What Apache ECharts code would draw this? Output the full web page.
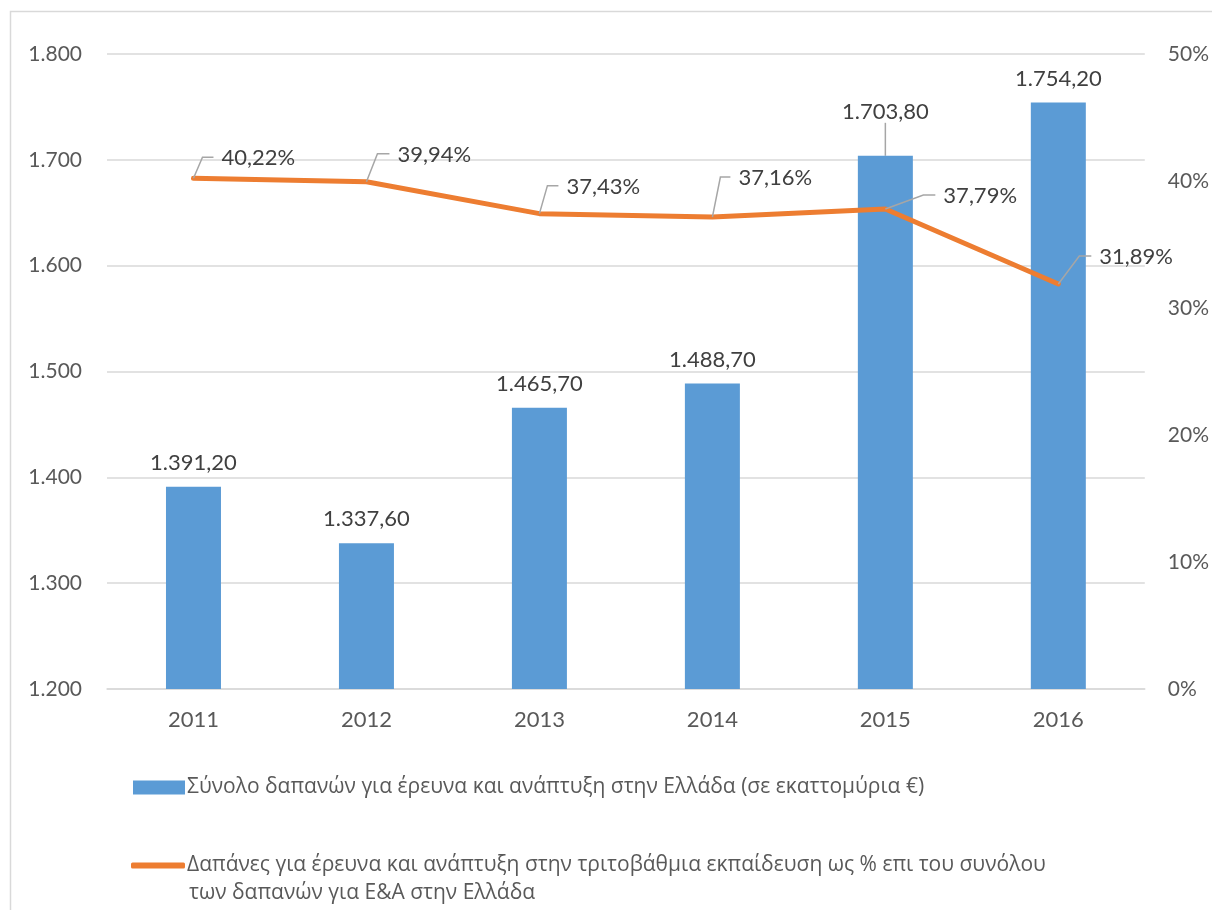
<!DOCTYPE html>
<html>
<head>
<meta charset="utf-8">
<style>
  html, body { margin: 0; padding: 0; background: #ffffff; }
  #chart { width: 1212px; height: 910px; }
</style>
<script src="https://cdn.jsdelivr.net/npm/echarts@6/dist/echarts.min.js"></script>
</head>
<body>
<div id="chart"></div>
<script>
// Years on the category axis
const years = ['2011', '2012', '2013', '2014', '2015', '2016'];
// Total R&D expenditure in Greece, million €
const totalSpending = [1391.2, 1337.6, 1465.7, 1488.7, 1703.8, 1754.2];
// Higher-education share of R&D expenditure, %
const higherEduShare = [40.22, 39.94, 37.43, 37.16, 37.79, 31.89];

const barName = 'Σύνολο δαπανών για έρευνα και ανάπτυξη στην Ελλάδα (σε εκαττομύρια €)';
const lineName = 'Δαπάνες για έρευνα και ανάπτυξη στην τριτοβάθμια εκπαίδευση ως % επι του συνόλου των δαπανών για Ε&Α στην Ελλάδα';
const lineNameFirstRow = 'Δαπάνες για έρευνα και ανάπτυξη στην τριτοβάθμια εκπαίδευση ως % επι του συνόλου';
const lineNameSecondRow = 'των δαπανών για Ε&Α στην Ελλάδα';

// Callout placement for the percentage labels: [elbow dx, elbow dy, text dx]
const calloutOffsets = [
  [9, -21, 28],
  [11, -28, 31],
  [8, -28, 27],
  [8, -40, 26],
  [38, -14, 58],
  [21, -28, 41]
];

const NUM_FONT = 'Lato, "Open Sans", sans-serif';
const TXT_FONT = '"Open Sans", "Noto Sans", sans-serif';
const TEXT = '#595959';
const LABEL = '#404040';
const LEADER = '#a6a6a6';

function greekNumber(v) {
  const parts = v.toFixed(2).split('.');
  const intPart = parts[0].replace(/\B(?=(\d{3})+(?!\d))/g, '.');
  return intPart + ',' + parts[1];
}

const chart = echarts.init(document.getElementById('chart'), null, { renderer: 'canvas' });

chart.setOption({
  backgroundColor: '#ffffff',
  animation: false,
  textStyle: { fontFamily: NUM_FONT },
  graphic: [{
    type: 'rect',
    shape: { x: 10.5, y: 11.5, width: 1300, height: 1000 },
    style: { fill: 'none', stroke: '#d9d9d9', lineWidth: 1.5 },
    silent: true,
    z: -10
  }, {
    type: 'text',
    left: 189, top: 883,
    style: { text: lineNameSecondRow, fill: TEXT, fontSize: 21, fontFamily: TXT_FONT }
  }],
  grid: { left: 107, right: 67, top: 54, bottom: 221 },
  legend: [{
    data: [barName],
    left: 128, top: 772,
    itemWidth: 52, itemHeight: 14, itemGap: 5,
    icon: 'rect',
    textStyle: { color: TEXT, fontSize: 21, fontFamily: TXT_FONT, padding: [0, 0, 0, -3] }
  }, {
    data: [{ name: lineName, icon: 'roundRect', itemStyle: { color: '#ed7d31' } }],
    left: 126, top: 850,
    itemWidth: 54, itemHeight: 6,
    formatter: function () { return lineNameFirstRow; },
    textStyle: { color: TEXT, fontSize: 21, fontFamily: TXT_FONT, padding: [0, 0, 0, -3] }
  }],
  xAxis: {
    type: 'category',
    data: years,
    axisLine: { lineStyle: { color: '#d9d9d9', width: 1.5 } },
    axisTick: { show: false },
    axisLabel: { color: TEXT, fontSize: 22, fontFamily: NUM_FONT, margin: 20 }
  },
  yAxis: [{
    type: 'value',
    min: 1200, max: 1800, interval: 100,
    axisLine: { show: false },
    axisTick: { show: false },
    splitLine: { lineStyle: { color: '#d9d9d9', width: 1.5 } },
    axisLabel: {
      color: TEXT, fontSize: 21, fontFamily: NUM_FONT, margin: 25,
      formatter: function (v) { return String(v).replace(/\B(?=(\d{3})+(?!\d))/g, '.'); }
    }
  }, {
    type: 'value',
    min: 0, max: 50, interval: 10,
    axisLine: { show: false },
    axisTick: { show: false },
    splitLine: { show: false },
    axisLabel: {
      color: TEXT, fontSize: 21, fontFamily: NUM_FONT, margin: 23,
      formatter: '{value}%'
    }
  }],
  series: [{
    name: barName,
    type: 'bar',
    yAxisIndex: 0,
    barWidth: 55,
    itemStyle: { color: '#5b9bd5' },
    data: totalSpending.map(function (v, i) {
      return i === 4 ? { value: v, labelLine: { show: true } } : v;
    }),
    label: {
      show: true,
      position: 'top',
      distance: 13,
      color: LABEL,
      fontSize: 22,
      fontFamily: NUM_FONT,
      formatter: function (p) { return greekNumber(p.value); }
    },
    labelLine: { show: false, lineStyle: { color: LEADER, width: 1.5 } },
    labelLayout: function (p) {
      if (p.dataIndex !== 4) return {};
      const cx = p.rect.x + p.rect.width / 2;
      const top = p.rect.y;
      return {
        x: cx, y: top - 44, align: 'center', verticalAlign: 'middle',
        labelLinePoints: [[cx, top], [cx + 3, top - 25], [cx + 3, top - 25]]
      };
    },
    z: 2
  }, {
    name: lineName,
    type: 'line',
    yAxisIndex: 1,
    data: higherEduShare,
    symbol: 'none',
    lineStyle: { color: '#ed7d31', width: 5, cap: 'round', join: 'round' },
    itemStyle: { color: '#ed7d31' },
    z: 3
  }, {
    // Callout labels with elbow leader lines for the percentage series
    name: 'callouts',
    type: 'custom',
    yAxisIndex: 1,
    silent: true,
    z: 4,
    data: higherEduShare.map(function (v, i) { return [i, v]; }),
    renderItem: function (params, api) {
      const i = params.dataIndex;
      const v = api.value(1);
      const pt = api.coord([api.value(0), v]);
      const o = calloutOffsets[i];
      const px = pt[0], py = pt[1];
      return {
        type: 'group',
        children: [{
          type: 'polyline',
          shape: { points: [[px, py], [px + o[0], py + o[1]], [px + o[2] - 8, py + o[1]]] },
          style: { stroke: LEADER, lineWidth: 1.5, fill: null }
        }, {
          type: 'text',
          style: {
            text: v.toFixed(2).replace('.', ',') + '%',
            x: px + o[2], y: py + o[1] + 1,
            align: 'left', verticalAlign: 'middle',
            fill: LABEL, fontSize: 22, fontFamily: NUM_FONT
          }
        }]
      };
    }
  }]
});
</script>
</body>
</html>
